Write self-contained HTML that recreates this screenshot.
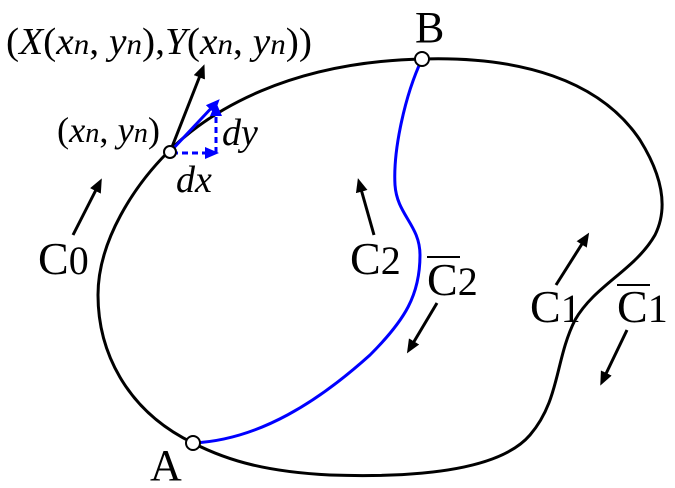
<!DOCTYPE html>
<html><head><style>
html,body{margin:0;padding:0;background:#fff;}
svg{display:block;}
text{font-family:"Liberation Serif",serif;fill:#000;}
</style></head><body>
<svg width="675" height="488" viewBox="0 0 675 488" xmlns="http://www.w3.org/2000/svg">
<defs>
<marker id="ak" markerWidth="14" markerHeight="12" refX="10" refY="6" orient="auto" markerUnits="userSpaceOnUse" viewBox="0 0 14 12"><path d="M0,0 L14,6 L0,12 z" fill="#000"/></marker>
<marker id="ab" markerWidth="14" markerHeight="12" refX="10" refY="6" orient="auto" markerUnits="userSpaceOnUse" viewBox="0 0 14 12"><path d="M0,0 L14,6 L0,12 z" fill="#00f"/></marker>
</defs>
<path d="M193,443 C125,410 98,350 98,295 C98,240 135,185 168,152 C210,110 290,62 422,59 C520,56 600,80 640,140 C668,185 665,215 655,235 C635,270 595,285 575,320 C555,360 560,400 530,435 C500,470 420,478 330,475 C270,472 230,462 193,443 Z" fill="none" stroke="#000" stroke-width="3"/>
<path d="M422,59 C405,95 393,150 395,185 C397,215 420,225 420,255 C420,295 405,320 370,355 C320,400 260,440 193,443" fill="none" stroke="#00f" stroke-width="3"/>
<line x1="170" y1="152" x2="203" y2="68" stroke="#000" stroke-width="3" marker-end="url(#ak)"/>
<line x1="170" y1="152" x2="217" y2="102" stroke="#00f" stroke-width="3" marker-end="url(#ab)"/>
<line x1="172" y1="153" x2="215" y2="153" stroke="#00f" stroke-width="3" stroke-dasharray="6,4" marker-end="url(#ab)"/>
<line x1="216" y1="153" x2="216" y2="106" stroke="#00f" stroke-width="3" stroke-dasharray="6,4" marker-end="url(#ab)"/>
<circle cx="170" cy="152" r="6" fill="#fff" stroke="#000" stroke-width="2"/>
<circle cx="422" cy="59" r="7" fill="#fff" stroke="#000" stroke-width="2"/>
<circle cx="193" cy="443" r="7" fill="#fff" stroke="#000" stroke-width="2"/>
<line x1="73" y1="235" x2="100" y2="182" stroke="#000" stroke-width="3" marker-end="url(#ak)"/>
<line x1="374" y1="235" x2="359" y2="182" stroke="#000" stroke-width="3" marker-end="url(#ak)"/>
<line x1="437" y1="303" x2="409" y2="350" stroke="#000" stroke-width="3" marker-end="url(#ak)"/>
<line x1="556" y1="285" x2="587" y2="236" stroke="#000" stroke-width="3" marker-end="url(#ak)"/>
<line x1="627" y1="330" x2="602" y2="382" stroke="#000" stroke-width="3" marker-end="url(#ak)"/>
<text x="6" y="54" font-size="38" textLength="306" lengthAdjust="spacingAndGlyphs">(<tspan font-style="italic">X</tspan>(<tspan font-style="italic">x</tspan><tspan font-style="italic" font-size="30">n</tspan>, <tspan font-style="italic">y</tspan><tspan font-style="italic" font-size="30">n</tspan>),<tspan font-style="italic">Y</tspan>(<tspan font-style="italic">x</tspan><tspan font-style="italic" font-size="30">n</tspan>, <tspan font-style="italic">y</tspan><tspan font-style="italic" font-size="30">n</tspan>))</text>
<text x="57" y="142" font-size="36" textLength="103" lengthAdjust="spacingAndGlyphs">(<tspan font-style="italic">x</tspan><tspan font-style="italic" font-size="28">n</tspan>, <tspan font-style="italic">y</tspan><tspan font-style="italic" font-size="28">n</tspan>)</text>
<text x="222" y="145" font-size="38" font-style="italic">dy</text>
<text x="176" y="192" font-size="38" font-style="italic">dx</text>
<text x="38" y="274" font-size="46">C<tspan font-size="40">0</tspan></text>
<text x="350" y="274" font-size="46">C<tspan font-size="40">2</tspan></text>
<text x="427" y="295" font-size="46">C<tspan font-size="40">2</tspan></text>
<line x1="427" y1="257" x2="460" y2="257" stroke="#000" stroke-width="2"/>
<text x="530" y="322" font-size="46">C<tspan font-size="40">1</tspan></text>
<text x="617" y="322" font-size="46">C<tspan font-size="40">1</tspan></text>
<line x1="617" y1="285" x2="650" y2="285" stroke="#000" stroke-width="2"/>
<text x="150" y="480" font-size="44">A</text>
<text x="415" y="42" font-size="44">B</text>
</svg>
</body></html>
